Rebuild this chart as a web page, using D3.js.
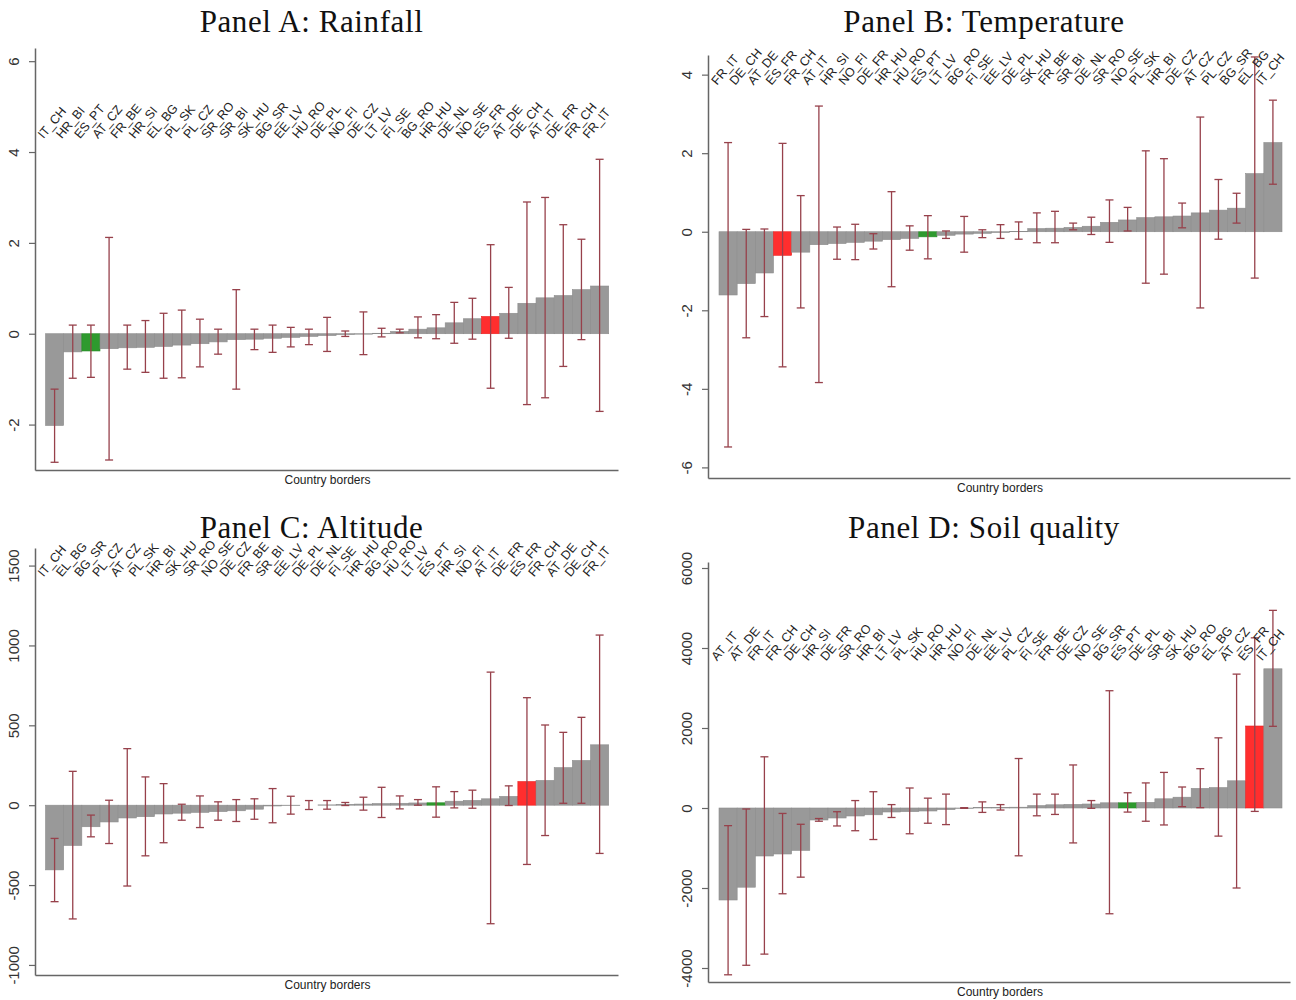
<!DOCTYPE html>
<html>
<head>
<meta charset="utf-8">
<script src="https://cdn.jsdelivr.net/npm/d3@7"></script>
<style>
  body { margin: 0; background: #fff; }
  svg { display: block; }
</style>
</head>
<body>
<div id="chart"></div>
<script>
// Panel A: Rainfall
const rainLabels = ["IT_CH","HR_BI","ES_PT","AT_CZ","FR_BE","HR_SI","EL_BG","PL_SK","PL_CZ","SR_RO","SR_BI","SK_HU","BG_SR","EE_LV","HU_RO","DE_PL","NO_FI","DE_CZ","LT_LV","FI_SE","BG_RO","HR_HU","DE_NL","NO_SE","ES_FR","AT_DE","DE_CH","AT_IT","DE_FR","FR_CH","FR_IT"];
const rainValues = [-2.02,-0.40,-0.38,-0.33,-0.31,-0.30,-0.28,-0.25,-0.22,-0.18,-0.13,-0.12,-0.10,-0.08,-0.06,-0.04,-0.02,-0.01,0.01,0.05,0.10,0.13,0.24,0.33,0.38,0.45,0.67,0.79,0.84,0.97,1.05];
const rainLo = [-2.83,-0.98,-0.96,-2.78,-0.78,-0.85,-0.98,-0.97,-0.73,-0.45,-1.22,-0.35,-0.41,-0.29,-0.24,-0.39,-0.06,-0.46,-0.07,0.02,-0.09,-0.11,-0.21,-0.12,-1.20,-0.10,-1.56,-1.41,-0.72,-0.13,-1.71];
const rainHi = [-1.22,0.19,0.19,2.12,0.19,0.29,0.45,0.52,0.32,0.10,0.97,0.10,0.19,0.14,0.10,0.36,0.06,0.48,0.12,0.10,0.37,0.42,0.69,0.78,1.96,1.02,2.90,3.00,2.40,2.08,3.84];
const rainTicks = [-2,0,2,4,6];

// Panel B: Temperature
const tempLabels = ["FR_IT","DE_CH","AT_DE","ES_FR","FR_CH","AT_IT","HR_SI","NO_FI","DE_FR","HR_HU","HU_RO","ES_PT","LT_LV","BG_RO","FI_SE","EE_LV","DE_PL","SK_HU","FR_BE","SR_BI","DE_NL","SR_RO","NO_SE","PL_SK","HR_BI","DE_CZ","AT_CZ","PL_CZ","BG_SR","EL_BG","IT_CH"];
const tempValues = [-1.61,-1.32,-1.05,-0.60,-0.52,-0.33,-0.30,-0.27,-0.24,-0.20,-0.17,-0.13,-0.09,-0.06,-0.04,-0.02,0.01,0.08,0.09,0.11,0.14,0.24,0.30,0.36,0.38,0.40,0.48,0.55,0.60,1.48,2.27];
const tempLo = [-5.48,-2.70,-2.16,-3.44,-1.94,-3.84,-0.70,-0.71,-0.44,-1.40,-0.47,-0.69,-0.17,-0.52,-0.15,-0.17,-0.19,-0.28,-0.28,0.05,-0.07,-0.27,0.02,-1.31,-1.08,0.10,-1.94,-0.19,0.22,-1.18,1.21];
const tempHi = [2.27,0.06,0.07,2.25,0.92,3.20,0.12,0.19,-0.05,1.02,0.15,0.41,0.02,0.39,0.05,0.18,0.25,0.48,0.52,0.22,0.37,0.81,0.62,2.06,1.86,0.73,2.92,1.33,0.98,4.45,3.35];
const tempTicks = [-6,-4,-2,0,2,4];

// Panel C: Altitude
const altLabels = ["IT_CH","EL_BG","BG_SR","PL_CZ","AT_CZ","PL_SK","HR_BI","SK_HU","SR_RO","NO_SE","DE_CZ","FR_BE","SR_BI","EE_LV","DE_PL","DE_NL","FI_SE","HR_HU","BG_RO","HU_RO","LT_LV","ES_PT","HR_SI","NO_FI","AT_IT","DE_FR","ES_FR","FR_CH","AT_DE","DE_CH","FR_IT"];
const altValues = [-405,-252,-135,-105,-80,-72,-55,-50,-45,-40,-35,-25,-5,-3,0,2,5,7,10,12,14,15,25,30,40,55,148,155,235,280,378];
const altLo = [-604,-712,-198,-240,-506,-317,-235,-94,-140,-94,-102,-88,-110,-56,-27,-25,-2,-31,-77,-23,0,-75,-17,-19,-742,-2,-371,-190,12,12,-302];
const altHi = [-208,212,-62,31,354,177,135,6,58,21,35,40,104,56,29,29,17,50,112,58,35,115,85,94,833,121,673,502,456,550,1065];
const altTicks = [-1000,-500,0,500,1000,1500];

// Panel D: Soil quality
const soilLabels = ["AT_IT","AT_DE","FR_IT","FR_CH","DE_CH","HR_SI","DE_FR","SR_RO","HR_BI","LT_LV","PL_SK","HU_RO","HR_HU","NO_FI","DE_NL","EE_LV","PL_CZ","FI_SE","FR_BE","DE_CZ","NO_SE","BG_SR","ES_PT","DE_PL","SR_BI","SK_HU","BG_RO","EL_BG","AT_CZ","ES_FR","IT_CH"];
const soilValues = [-2300,-1980,-1200,-1150,-1060,-300,-250,-200,-170,-100,-90,-75,-40,-10,10,15,20,60,80,90,100,130,130,140,230,270,490,510,680,2050,3480];
const soilLo = [-4170,-3932,-3653,-2144,-1729,-331,-449,-568,-788,-237,-644,-381,-415,-8,-110,-51,-1195,-195,-161,-873,-8,-2644,-102,-331,-424,34,8,-703,-2000,-85,2042];
const soilHi = [-441,-25,1280,-136,-407,-263,-93,186,407,85,500,246,347,8,153,85,1237,347,347,1076,186,2932,381,627,890,525,983,1754,3347,4254,4941];
const soilTicks = [-4000,-2000,0,2000,4000,6000];

const panels = [
  {title: "Panel A: Rainfall", labels: rainLabels, values: rainValues, lo: rainLo, hi: rainHi, ticks: rainTicks,
   left: 35, right: 618, top: 48, bottom: 470, domain: [-3, 6.29], barL: 45.5, barR: 608.7, labelAt: 4.28, titleY: 32},
  {title: "Panel B: Temperature", labels: tempLabels, values: tempValues, lo: tempLo, hi: tempHi, ticks: tempTicks,
   left: 708, right: 1290, top: 55, bottom: 478, domain: [-6.27, 4.5], barL: 719, barR: 1282, labelAt: 3.72, titleY: 32},
  {title: "Panel C: Altitude", labels: altLabels, values: altValues, lo: altLo, hi: altHi, ticks: altTicks,
   left: 35, right: 618, top: 548, bottom: 975, domain: [-1063, 1610], barL: 45.5, barR: 608.7, labelAt: 1425, titleY: 538},
  {title: "Panel D: Soil quality", labels: soilLabels, values: soilValues, lo: soilLo, hi: soilHi, ticks: soilTicks,
   left: 708, right: 1290, top: 562, bottom: 982, domain: [-4350, 6150], barL: 719, barR: 1282, labelAt: 3660, titleY: 538}
];

const barColor = d => d === "ES_FR" ? "#ff2e2e" : d === "ES_PT" ? "#2e9a2e" : "#999999";
const errColor = "#97414b";

const svg = d3.select("#chart").append("svg")
    .attr("width", 1296)
    .attr("height", 1000);

panels.forEach(p => {
  let g = svg.append("g");

  let x = d3.scaleBand()
      .domain(p.labels)
      .range([p.barL, p.barR])
      .padding(0);

  let y = d3.scaleLinear()
      .domain(p.domain)
      .range([p.bottom, p.top]);

  let data = p.labels.map((l, i) => ({label: l, value: p.values[i], lo: p.lo[i], hi: p.hi[i]}));

  // bars
  g.append("g")
      .selectAll("rect")
      .data(data)
      .enter()
      .append("rect")
      .attr("x", d => x(d.label))
      .attr("width", x.bandwidth())
      .attr("y", d => y(Math.max(0, d.value)))
      .attr("height", d => Math.abs(y(d.value) - y(0)))
      .attr("fill", d => barColor(d.label))
      .attr("stroke", d => d.label === "ES_FR" ? "#e82020" : d.label === "ES_PT" ? "#248a24" : "#8c8c8c")
      .attr("stroke-width", 0.6);

  // error bars
  let eb = g.append("g")
      .selectAll("g")
      .data(data)
      .enter()
      .append("g")
      .attr("stroke", errColor)
      .attr("stroke-width", 1.3);
  let cx = d => x(d.label) + x.bandwidth() / 2;
  eb.append("line")
      .attr("x1", cx).attr("x2", cx)
      .attr("y1", d => y(d.lo)).attr("y2", d => y(d.hi));
  eb.append("line")
      .attr("x1", d => cx(d) - 4).attr("x2", d => cx(d) + 4)
      .attr("y1", d => y(d.lo)).attr("y2", d => y(d.lo));
  eb.append("line")
      .attr("x1", d => cx(d) - 4).attr("x2", d => cx(d) + 4)
      .attr("y1", d => y(d.hi)).attr("y2", d => y(d.hi));

  // country labels
  g.append("g")
      .selectAll("text")
      .data(data)
      .enter()
      .append("text")
      .attr("transform", d => "translate(" + (cx(d) - 11) + "," + y(p.labelAt) + ") rotate(-50)")
      .attr("font-family", "Liberation Sans, Arial, sans-serif")
      .attr("font-size", 12.5)
      .attr("fill", "#222")
      .text(d => d.label);

  // y axis
  let ax = g.append("g")
      .attr("transform", "translate(" + p.left + ",0)")
      .call(d3.axisLeft(y).tickValues(p.ticks).tickSize(6).tickSizeOuter(0).tickFormat(d3.format("d")));
  ax.select(".domain").attr("stroke", "#666").attr("stroke-width", 1.5);
  ax.selectAll(".tick line").attr("stroke", "#666").attr("stroke-width", 1.2);
  ax.selectAll(".tick text")
      .attr("font-family", "Liberation Sans, Arial, sans-serif")
      .attr("font-size", 15)
      .attr("fill", "#333")
      .attr("x", 0).attr("dy", 0)
      .attr("text-anchor", "middle")
      .attr("transform", "translate(-16,0) rotate(-90)")
      .text(d => d < 0 ? "-" + Math.abs(d) : d);

  // x axis
  let xl = d3.scaleLinear().domain([0, 1]).range([p.left, p.right]);
  let bx = g.append("g")
      .attr("transform", "translate(0," + p.bottom + ")")
      .call(d3.axisBottom(xl).tickValues([]).tickSizeOuter(0));
  bx.select(".domain").attr("stroke", "#666").attr("stroke-width", 1.5);

  g.append("text")
      .attr("x", (p.left + p.right) / 2 + 1)
      .attr("y", p.bottom + 14)
      .attr("text-anchor", "middle")
      .attr("font-family", "Liberation Sans, Arial, sans-serif")
      .attr("font-size", 12)
      .attr("fill", "#222")
      .text("Country borders");

  g.append("text")
      .attr("x", (p.left + p.right) / 2 - 15)
      .attr("y", p.titleY)
      .attr("text-anchor", "middle")
      .attr("font-family", "Liberation Serif, Times New Roman, serif")
      .attr("font-size", 31)
      .attr("letter-spacing", 0.6)
      .attr("fill", "#111")
      .text(p.title);
});
</script>
</body>
</html>
